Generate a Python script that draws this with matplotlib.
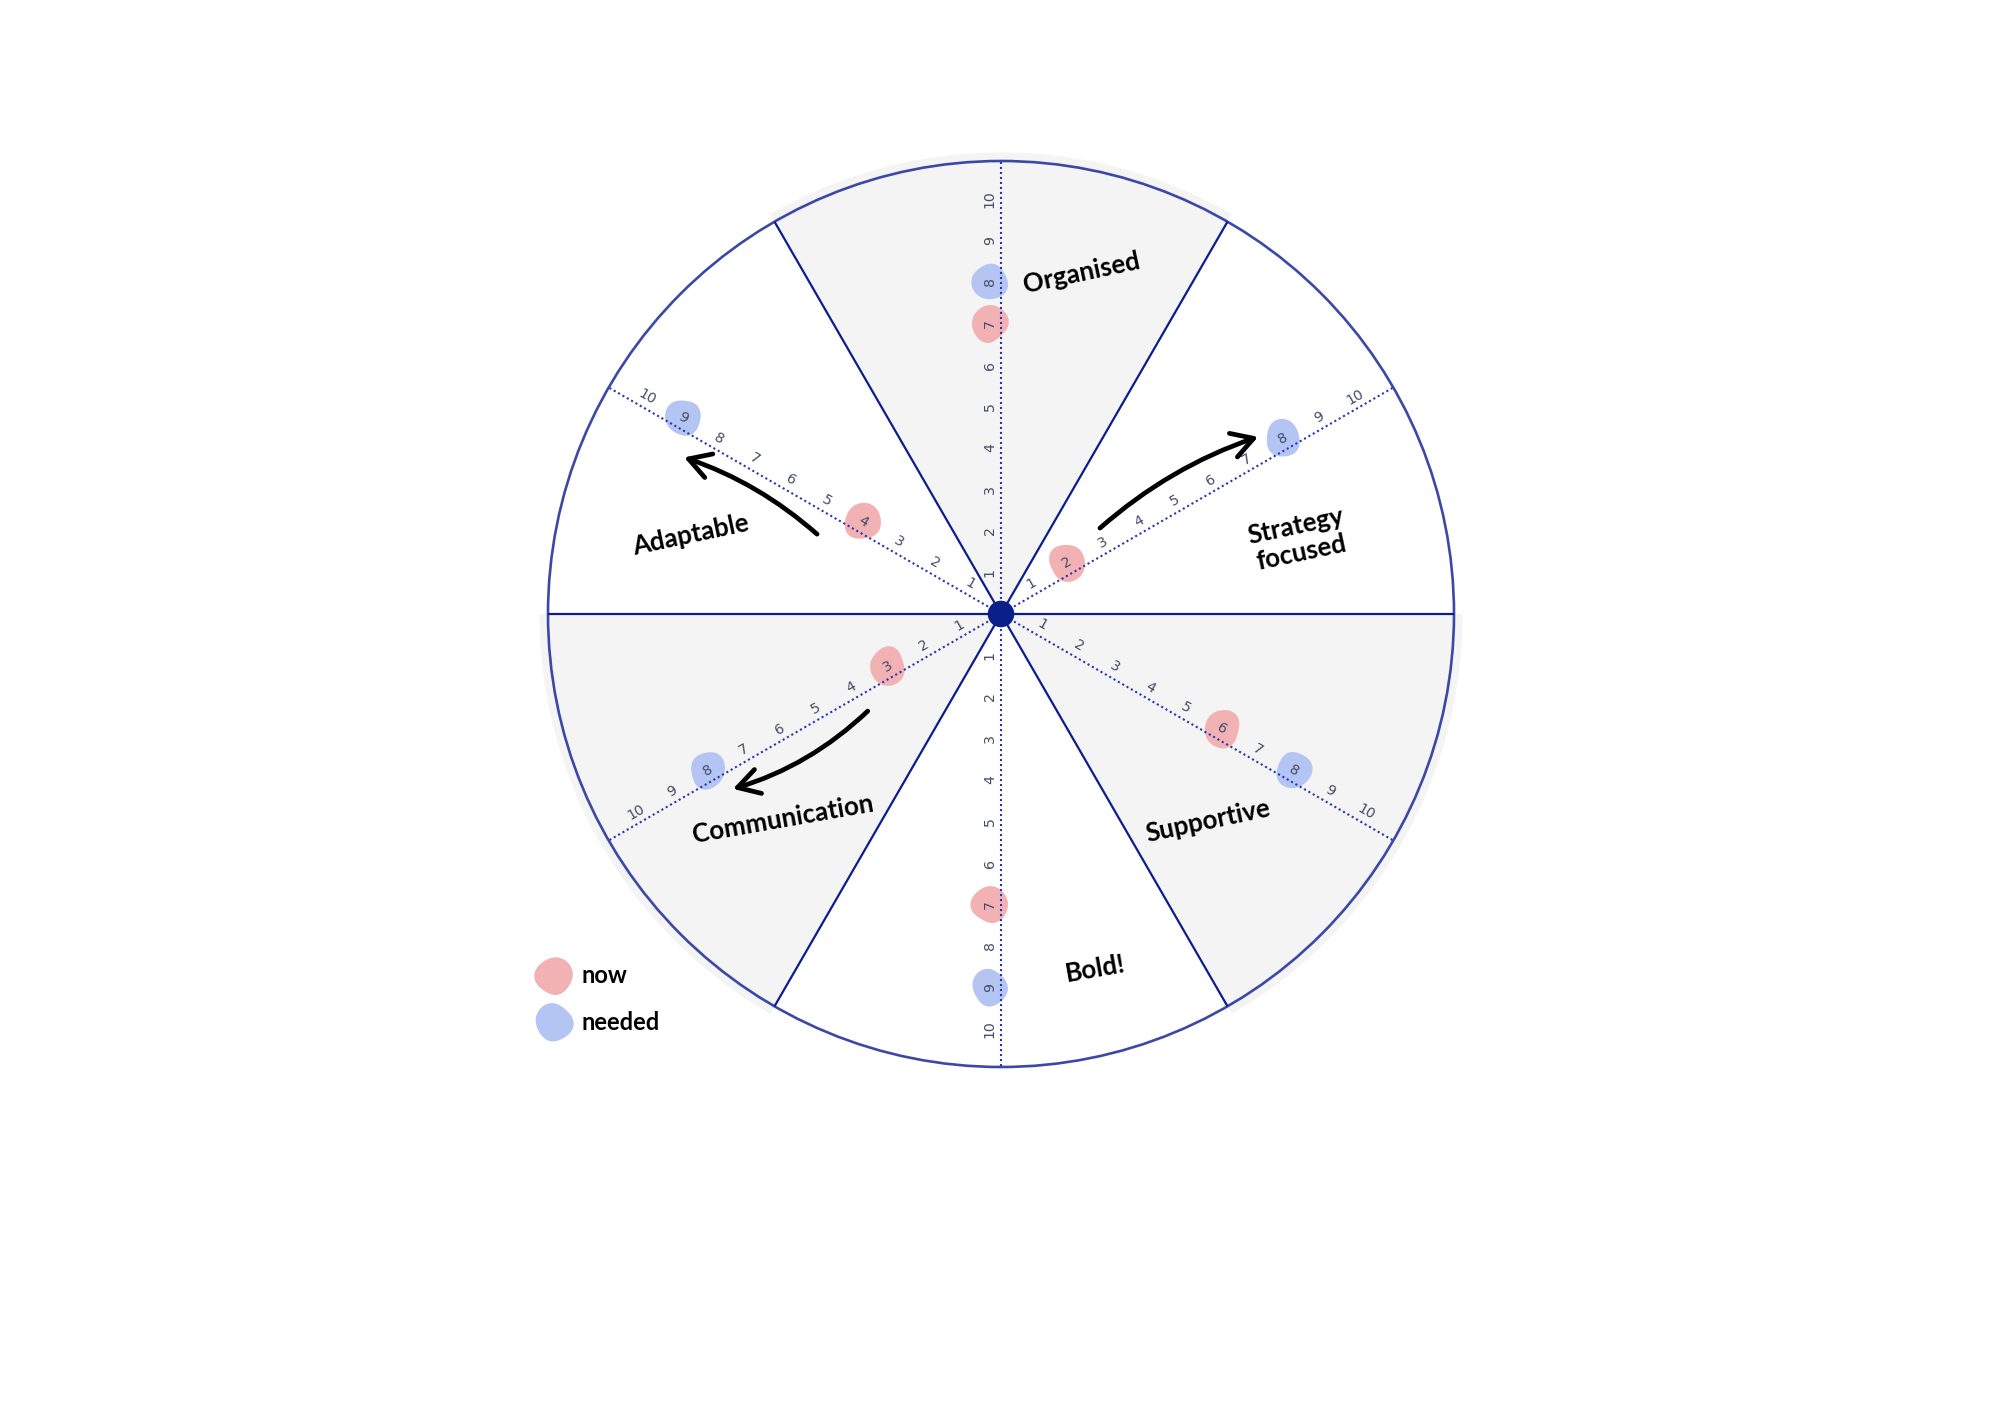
import numpy as np
import matplotlib
matplotlib.use('Agg')
import matplotlib.pyplot as plt
from matplotlib.patches import Wedge, Circle, Polygon

# ---------------- data ----------------
categories = ['Organised', 'Strategy\nfocused', 'Supportive', 'Bold!', 'Communication', 'Adaptable']
axis_angles = [90, 30, -30, -90, -150, 150]
now_scores = [7, 2, 6, 7, 3, 4]
needed_scores = [8, 8, 8, 9, 8, 9]
scale_ticks = list(range(1, 11))
legend_labels = ['now', 'needed']
arrow_categories = ['Strategy\nfocused', 'Adaptable', 'Communication']
arrow_from = [3.1, 4.8, 3.95]
arrow_to = [7.5, 8.5, 7.7]

# ---------------- style / layout ----------------
PX = 41.5             # pixels per score unit
R = 453 / PX          # wheel radius in score units
NOW_C = '#f2b2b4'
NEED_C = '#b4c5f4'
NAVY = '#0c1c8c'
RIM = '#3b48a6'
DOT = '#2536b2'
TICK_C = '#464c68'
GREY = '#f4f4f4'
HAND = ['Lato', 'DejaVu Sans']

label_pos = {
    'Organised': (1.95, 8.22),
    'Strategy\nfocused': (7.18, 1.80),
    'Supportive': (4.99, -4.99),
    'Bold!': (2.27, -8.55),
    'Communication': (-5.25, -4.94),
    'Adaptable': (-7.49, 1.90),
}
label_rot = {'Organised': 12, 'Strategy\nfocused': 12, 'Supportive': 12,
             'Bold!': 10, 'Communication': 10, 'Adaptable': 12}
arrow_rad = {'Strategy\nfocused': -0.1, 'Adaptable': 0.1, 'Communication': -0.12}
arrow_off = {'Strategy\nfocused': 0.6, 'Adaptable': 0.55, 'Communication': 0.42}

fig = plt.figure(figsize=(10, 7.07), dpi=200)
ax = fig.add_axes([0, 0, 1, 1])
ax.set_xlim(-1001 / PX, 999 / PX)
ax.set_ylim(-(1414 - 614) / PX, 614 / PX)
ax.axis('off')


def text_rot(a):
    r = ((a + 90) % 180) - 90
    if r == -90:
        r = 90
    return r


def frame(a):
    ar = np.deg2rad(a)
    u = np.array([np.cos(ar), np.sin(ar)])
    tr = np.deg2rad(text_rot(a))
    n = np.array([-np.sin(tr), np.cos(tr)])
    return u, n


def blob(cx, cy, r, k, color, z):
    t = np.linspace(0, 2 * np.pi, 200)
    p = 1.3 * k + 0.4
    rr = r * (1 + 0.045 * np.sin(2 * t + p) + 0.035 * np.sin(3 * t + 2.1 * p)
              + 0.02 * np.cos(4 * t + 0.7 * p))
    pts = np.column_stack([cx + 0.97 * rr * np.cos(t), cy + 1.03 * rr * np.sin(t)])
    ax.add_patch(Polygon(pts, closed=True, fc=color, ec='none', zorder=z))


# grey sectors (slightly larger than the rim)
for a0 in (60, 180, 300):
    ax.add_patch(Wedge((0, 0), R * 1.019, a0, a0 + 60, fc=GREY, ec='none', zorder=0))

# rim
ax.add_patch(Circle((0, 0), R, fill=False, ec=RIM, lw=0.95, zorder=5))

# sector dividers
for a in range(0, 360, 60):
    ar = np.deg2rad(a)
    ax.plot([0, R * np.cos(ar)], [0, R * np.sin(ar)], color=NAVY, lw=0.8, zorder=5,
            solid_capstyle='butt')

# axes, ticks, blobs
OFF = 0.27
for i, (cat, a) in enumerate(zip(categories, axis_angles)):
    u, n = frame(a)
    ax.plot([0, R * u[0]], [0, R * u[1]], color=DOT, lw=0.75, ls=(0, (1, 1.4)), zorder=3)
    for k in scale_ticks:
        p = k * u + OFF * n
        ax.text(p[0], p[1], str(k), rotation=text_rot(a), rotation_mode='anchor',
                ha='center', va='center', fontsize=5.1, color=TICK_C, zorder=4,
                family=['DejaVu Sans'])
    pn = now_scores[i] * u + OFF * n
    pd = needed_scores[i] * u + OFF * n
    blob(pn[0], pn[1], 0.44, 2 * i, NOW_C, 2)
    blob(pd[0], pd[1], 0.43, 2 * i + 1, NEED_C, 2)
    lx, ly = label_pos[cat]
    ax.text(lx, ly, cat, rotation=label_rot[cat], ha='center', va='center',
            fontsize=9.3, fontweight='bold', family=HAND, color='black',
            linespacing=1.15, zorder=6)

# arrows (offset to the counter-clockwise side of each axis)
for cat, s, e in zip(arrow_categories, arrow_from, arrow_to):
    a = axis_angles[categories.index(cat)]
    u, _ = frame(a)
    ar = np.deg2rad(a)
    perp = np.array([-np.sin(ar), np.cos(ar)])
    p0 = s * u + arrow_off[cat] * perp
    p1 = e * u + arrow_off[cat] * perp
    ax.annotate('', xy=(p1[0], p1[1]), xytext=(p0[0], p0[1]),
                arrowprops=dict(arrowstyle='->,head_length=0.55,head_width=0.32',
                                lw=1.7, color='black', mutation_scale=14,
                                connectionstyle='arc3,rad=%s' % arrow_rad[cat],
                                shrinkA=0, shrinkB=0, capstyle='round'),
                zorder=6)

# centre hub
ax.add_patch(Circle((0, 0), 0.32, fc='#0a1f8a', ec='none', zorder=7))

# legend
for j, (lab, c) in enumerate(zip(legend_labels, [NOW_C, NEED_C])):
    y = -8.72 - 1.12 * j
    blob(-10.77, y, 0.45, 20 + j, c, 2)
    ax.text(-10.10, y, lab, ha='left', va='center', fontsize=8.5, fontweight='bold',
            family=HAND, color='black')

fig.savefig('out.png', dpi=200, facecolor='white')
